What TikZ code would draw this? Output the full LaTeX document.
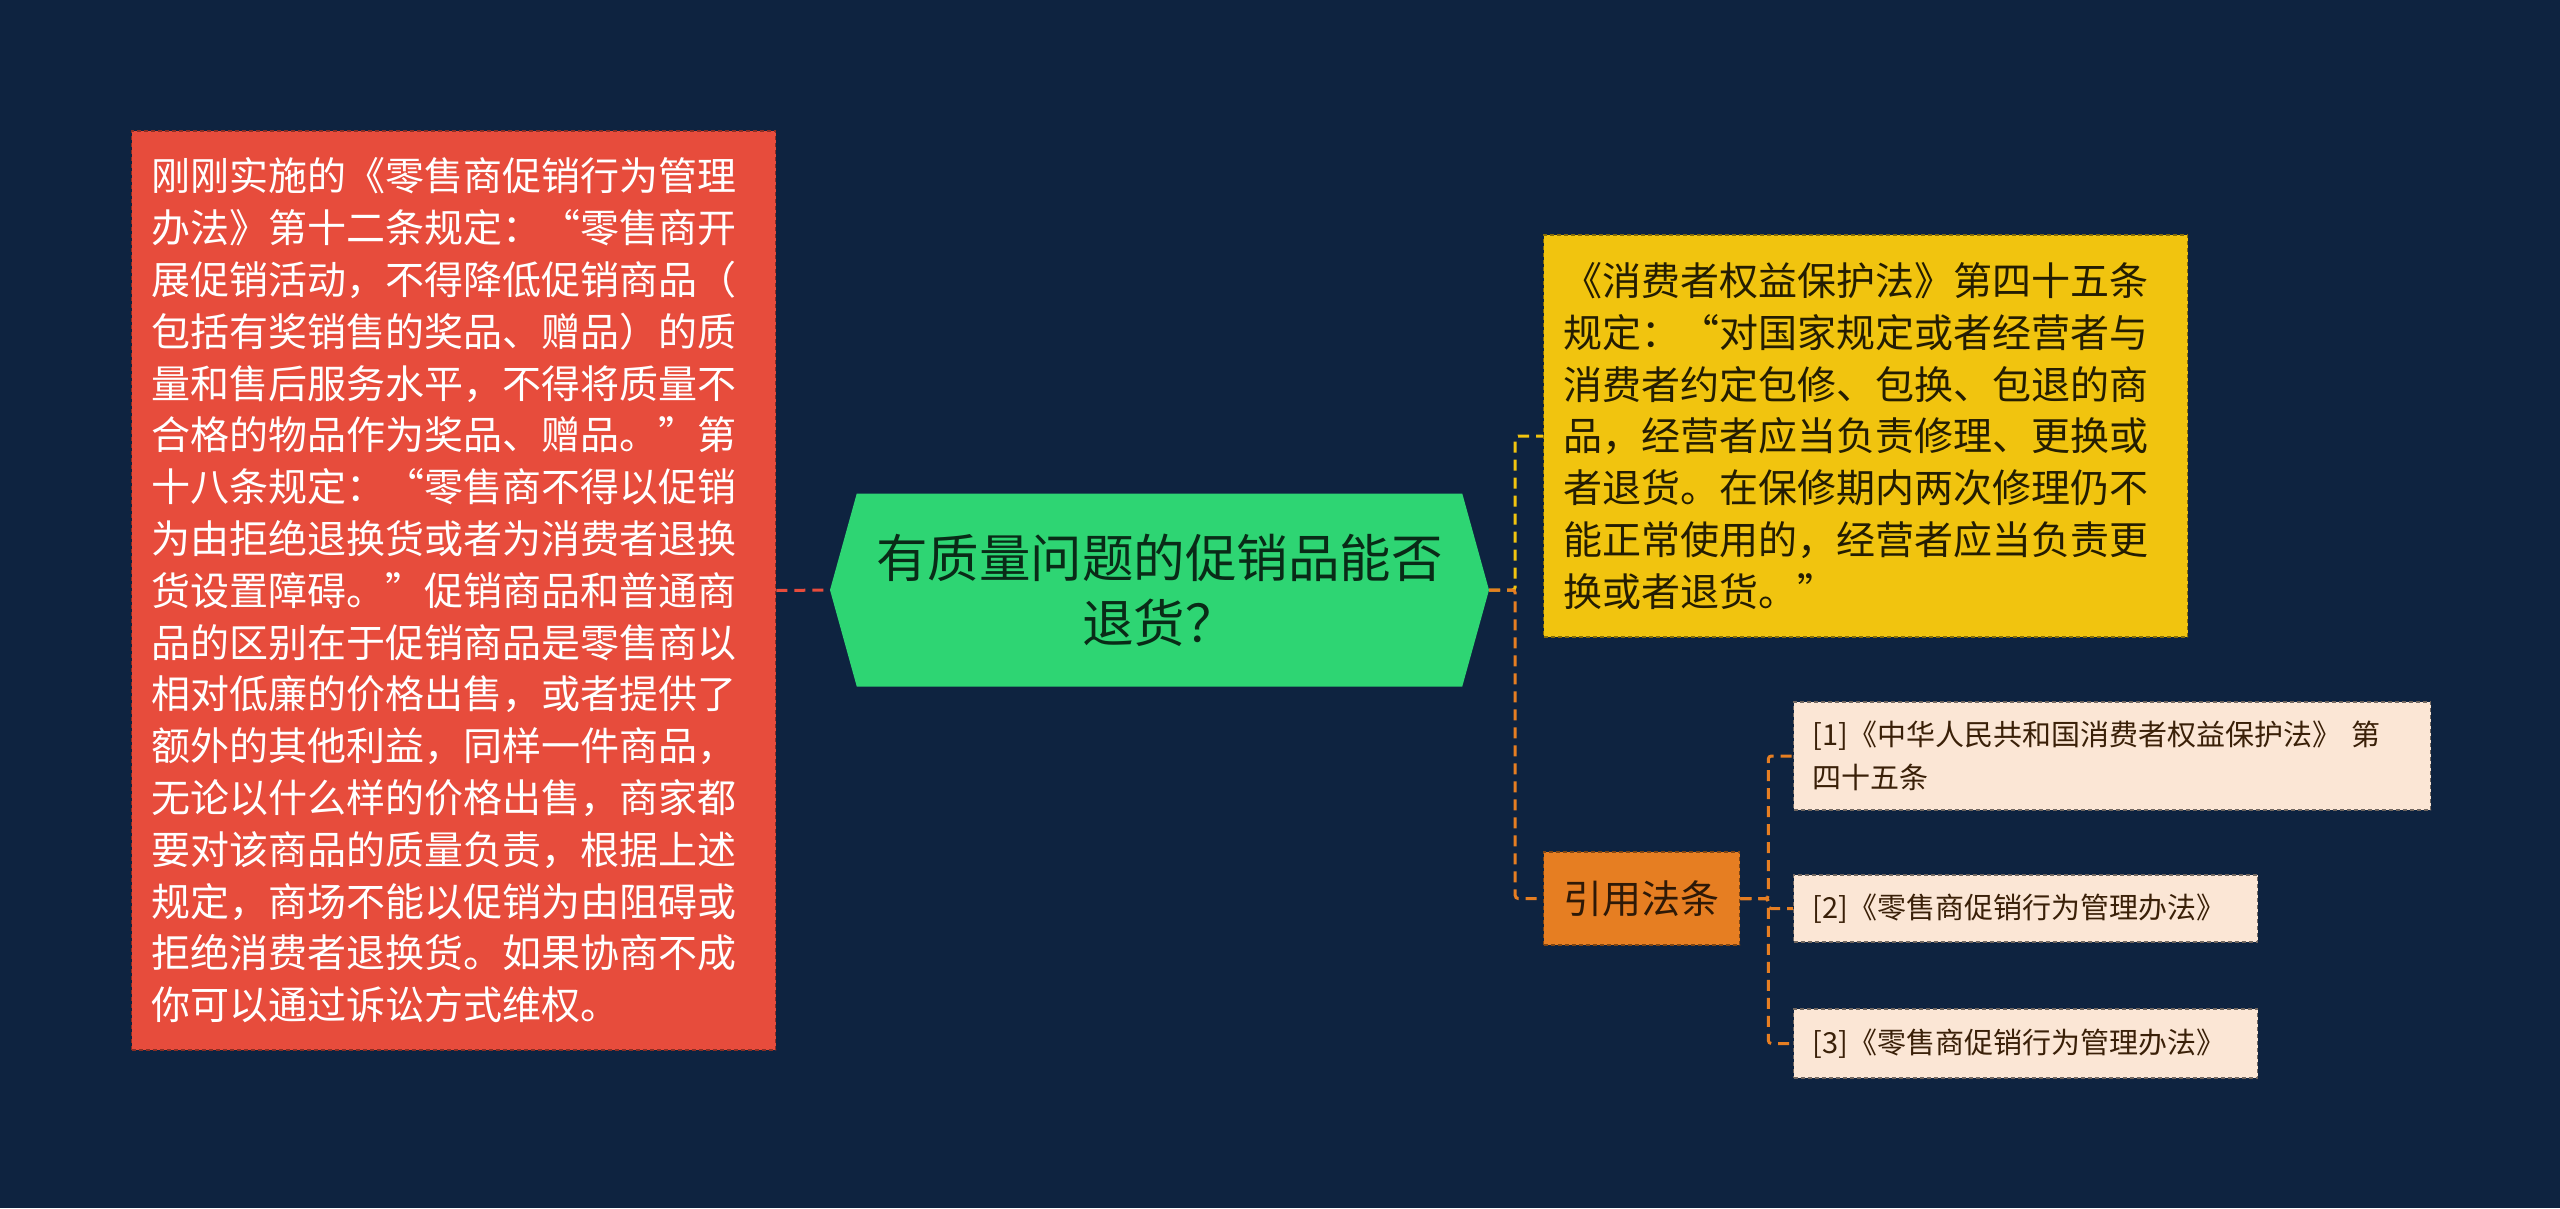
\documentclass[tikz,border=0pt]{standalone}
\usepackage{fontspec}
\setmainfont{Noto Sans CJK SC}
\usetikzlibrary{positioning,shapes.symbols}
\definecolor{bgnavy}{HTML}{0E2340}
\definecolor{rootgreen}{HTML}{2ED573}
\definecolor{boxred}{HTML}{E74C3C}
\definecolor{boxyellow}{HTML}{F1C40F}
\definecolor{boxorange}{HTML}{E67E22}
\definecolor{boxpeach}{HTML}{FBE6D5}
\tikzset{
  topic/.style={align=left, anchor=west, inner ysep=0pt, draw=black!70, dash pattern=on 4pt off 3pt, line width=1.3pt},
  big topic/.style={topic, font=\fontsize{39}{51.8}\selectfont, inner xsep=20pt},
  red topic/.style={big topic, fill=boxred, draw=boxred!60!black, text=white, text width=604pt, minimum height=919pt},
  yellow topic/.style={big topic, fill=boxyellow, draw=boxyellow!55!black, text=black!85!boxyellow, text width=604pt, minimum height=402pt},
  orange topic/.style={big topic, fill=boxorange, draw=boxorange!55!black, text=black!80!boxorange, text width=156pt, minimum height=93pt},
  ref topic/.style={topic, font=\fontsize{29}{43}\selectfont, inner xsep=19pt, fill=boxpeach, draw=black!55!boxpeach, text=black!75!boxorange},
  root topic/.style={signal, signal to=west and east, signal pointer angle=149, fill=rootgreen, text=black!80!rootgreen, align=center, font=\fontsize{51.5}{65}\selectfont, minimum width=659pt, minimum height=193pt, inner sep=0pt},
  link/.style={line width=3pt, dash pattern=on 11pt off 7pt, rounded corners=3pt},
}

\begin{document}
\begin{tikzpicture}[x=1pt,y=-1pt]
\fill[bgnavy] (0,0) rectangle (2560,1208);
\useasboundingbox (0,0) rectangle (2560,1208);
% the nodes
\node [root topic] (root) at (1159.5,590) {有质量问题的促销品能否\\退货？};
\node [red topic] (advice) at (131,590.5) {刚刚实施的《零售商促销行为管理\\办法》第十二条规定：“零售商开\\展促销活动，不得降低促销商品（\\包括有奖销售的奖品、赠品）的质\\量和售后服务水平，不得将质量不\\合格的物品作为奖品、赠品。”第\\十八条规定：“零售商不得以促销\\为由拒绝退换货或者为消费者退换\\货设置障碍。”促销商品和普通商\\品的区别在于促销商品是零售商以\\相对低廉的价格出售，或者提供了\\额外的其他利益，同样一件商品，\\无论以什么样的价格出售，商家都\\要对该商品的质量负责，根据上述\\规定，商场不能以促销为由阻碍或\\拒绝消费者退换货。如果协商不成\\你可以通过诉讼方式维权。};
\node [yellow topic] (law) at (1543,436) {《消费者权益保护法》第四十五条\\规定：“对国家规定或者经营者与\\消费者约定包修、包换、包退的商\\品，经营者应当负责修理、更换或\\者退货。在保修期内两次修理仍不\\能正常使用的，经营者应当负责更\\换或者退货。”};
\node [orange topic] (cite) at (1543,898.5) {引用法条};
\node [ref topic, text width=599pt, minimum height=108pt] (refA) at (1793,756) {[1]《中华人民共和国消费者权益保护法》 第\\四十五条};
\node [ref topic, text width=426pt, minimum height=67pt] (refB) at (1793,908.5) {[2]《零售商促销行为管理办法》};
\node [ref topic, text width=426pt, minimum height=69pt] (refC) at (1793,1043.5) {[3]《零售商促销行为管理办法》};
%drawings of links
\draw[link, boxred] (advice.east) -- (root.west);
\draw[link, boxyellow] (root.east) -- ++(26,0) |- (law.west);
\draw[link, boxorange] (root.east) -- ++(26,0) |- (cite.west);

\draw[link, boxorange] (cite.east) -- ++(28,0) |- (refA.west);
\draw[link, boxorange] (cite.east) -- ++(28,0) |- (refB.west);
\draw[link, boxorange] (cite.east) -- ++(28,0) |- (refC.west);

\end{tikzpicture}
\end{document}
